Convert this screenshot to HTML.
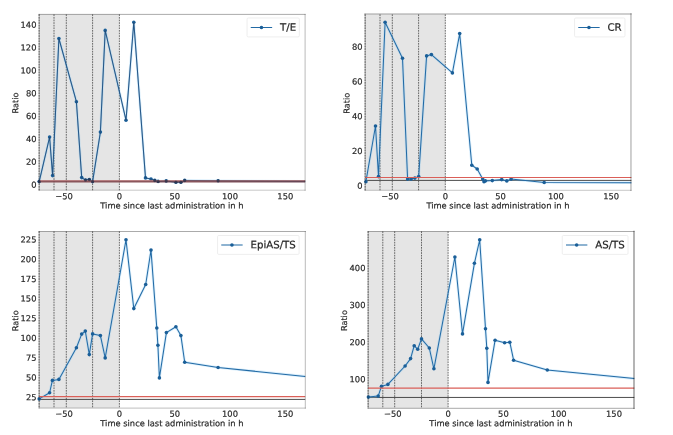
<!DOCTYPE html>
<html lang="en"><head><meta charset="utf-8"><title>Ratio plots</title>
<style>html,body{margin:0;padding:0;background:#fff;width:673px;height:435px;overflow:hidden}svg{display:block}text{font-family:"DejaVu Sans","Liberation Sans",sans-serif;fill:#262626;stroke:#262626;stroke-width:0.18px;text-rendering:geometricPrecision}text.lg{stroke-width:0.22px}</style></head><body>
<svg width="673" height="435" viewBox="0 0 673 435">
<rect width="673" height="435" fill="#fff"/>
<g>
<rect x="39.1" y="14.4" width="80.3" height="175.9" fill="#e5e5e5"/>
<line x1="39.1" y1="14.4" x2="39.1" y2="190.3" stroke="#000" stroke-opacity="0.85" stroke-width="0.65" stroke-dasharray="1.7 0.9"/>
<line x1="54" y1="14.4" x2="54" y2="190.3" stroke="#000" stroke-opacity="0.85" stroke-width="0.65" stroke-dasharray="1.7 0.9"/>
<line x1="66.3" y1="14.4" x2="66.3" y2="190.3" stroke="#000" stroke-opacity="0.85" stroke-width="0.65" stroke-dasharray="1.7 0.9"/>
<line x1="92.6" y1="14.4" x2="92.6" y2="190.3" stroke="#000" stroke-opacity="0.85" stroke-width="0.65" stroke-dasharray="1.7 0.9"/>
<line x1="119.4" y1="14.4" x2="119.4" y2="190.3" stroke="#000" stroke-opacity="0.85" stroke-width="0.65" stroke-dasharray="1.7 0.9"/>
<polyline points="39.2,181.6 49.6,137.1 52.6,175.6 58.9,38.5 76.4,101.7 81.7,177.6 85.5,180.1 89.3,179.6 92.6,181.6 100.4,132.1 105.2,30.4 126,120.2 133.8,22.3 145.5,177.9 151,179.1 154.8,180.4 158.1,181.4 166.2,180.9 175.9,182.2 180.9,182.2 184.7,180.4 218.1,180.8 305.2,181.3" fill="none" stroke="#7cc4f5" stroke-opacity="0.28" stroke-width="2.7" stroke-linejoin="round"/>
<polyline points="39.2,181.6 49.6,137.1 52.6,175.6 58.9,38.5 76.4,101.7 81.7,177.6 85.5,180.1 89.3,179.6 92.6,181.6 100.4,132.1 105.2,30.4 126,120.2 133.8,22.3 145.5,177.9 151,179.1 154.8,180.4 158.1,181.4 166.2,180.9 175.9,182.2 180.9,182.2 184.7,180.4 218.1,180.8 305.2,181.3" fill="none" stroke="#226aa5" stroke-width="1.02" stroke-linejoin="round"/>
<circle cx="39.2" cy="181.6" r="1.8" fill="#1b5f98"/>
<circle cx="49.6" cy="137.1" r="1.8" fill="#1b5f98"/>
<circle cx="52.6" cy="175.6" r="1.8" fill="#1b5f98"/>
<circle cx="58.9" cy="38.5" r="1.8" fill="#1b5f98"/>
<circle cx="76.4" cy="101.7" r="1.8" fill="#1b5f98"/>
<circle cx="81.7" cy="177.6" r="1.8" fill="#1b5f98"/>
<circle cx="85.5" cy="180.1" r="1.8" fill="#1b5f98"/>
<circle cx="89.3" cy="179.6" r="1.8" fill="#1b5f98"/>
<circle cx="92.6" cy="181.6" r="1.8" fill="#1b5f98"/>
<circle cx="100.4" cy="132.1" r="1.8" fill="#1b5f98"/>
<circle cx="105.2" cy="30.4" r="1.8" fill="#1b5f98"/>
<circle cx="126" cy="120.2" r="1.8" fill="#1b5f98"/>
<circle cx="133.8" cy="22.3" r="1.8" fill="#1b5f98"/>
<circle cx="145.5" cy="177.9" r="1.8" fill="#1b5f98"/>
<circle cx="151" cy="179.1" r="1.8" fill="#1b5f98"/>
<circle cx="154.8" cy="180.4" r="1.8" fill="#1b5f98"/>
<circle cx="158.1" cy="181.4" r="1.8" fill="#1b5f98"/>
<circle cx="166.2" cy="180.9" r="1.8" fill="#1b5f98"/>
<circle cx="175.9" cy="182.2" r="1.8" fill="#1b5f98"/>
<circle cx="180.9" cy="182.2" r="1.8" fill="#1b5f98"/>
<circle cx="184.7" cy="180.4" r="1.8" fill="#1b5f98"/>
<circle cx="218.1" cy="180.8" r="1.8" fill="#1b5f98"/>
<line x1="39.1" y1="180.5" x2="305.2" y2="180.5" stroke="#e39a97" stroke-width="0.9" stroke-opacity="0.8"/>
<line x1="39.1" y1="181.5" x2="305.2" y2="181.5" stroke="#82494f" stroke-width="1.85" stroke-opacity="0.92"/>
<polyline points="39.2,181.6 49.6,137.1 52.6,175.6 58.9,38.5 76.4,101.7 81.7,177.6 85.5,180.1 89.3,179.6 92.6,181.6 100.4,132.1 105.2,30.4 126,120.2 133.8,22.3 145.5,177.9 151,179.1 154.8,180.4 158.1,181.4 166.2,180.9 175.9,182.2 180.9,182.2 184.7,180.4 218.1,180.8 305.2,181.3" fill="none" stroke="#2a3550" stroke-width="1" stroke-opacity="0.35"/>
<circle cx="39.2" cy="181.6" r="1.5" fill="#2a3048" fill-opacity="0.75"/>
<circle cx="85.5" cy="180.1" r="1.5" fill="#2a3048" fill-opacity="0.75"/>
<circle cx="89.3" cy="179.6" r="1.5" fill="#2a3048" fill-opacity="0.75"/>
<circle cx="92.6" cy="181.6" r="1.5" fill="#2a3048" fill-opacity="0.75"/>
<circle cx="154.8" cy="180.4" r="1.5" fill="#2a3048" fill-opacity="0.75"/>
<circle cx="158.1" cy="181.4" r="1.5" fill="#2a3048" fill-opacity="0.75"/>
<circle cx="166.2" cy="180.9" r="1.5" fill="#2a3048" fill-opacity="0.75"/>
<circle cx="175.9" cy="182.2" r="1.5" fill="#2a3048" fill-opacity="0.75"/>
<circle cx="180.9" cy="182.2" r="1.5" fill="#2a3048" fill-opacity="0.75"/>
<circle cx="184.7" cy="180.4" r="1.5" fill="#2a3048" fill-opacity="0.75"/>
<circle cx="218.1" cy="180.8" r="1.5" fill="#2a3048" fill-opacity="0.75"/>
<line x1="39.1" y1="14.4" x2="305.1" y2="14.4" stroke="#000" stroke-opacity="0.33" stroke-width="1.0" stroke-linecap="square"/>
<line x1="305.1" y1="14.4" x2="305.1" y2="190.2" stroke="#000" stroke-opacity="0.27" stroke-width="1.0" stroke-linecap="square"/>
<line x1="39.1" y1="190.2" x2="305.1" y2="190.2" stroke="#000" stroke-opacity="0.22" stroke-width="1.0" stroke-linecap="square"/>
<line x1="39.1" y1="14.4" x2="39.1" y2="190.2" stroke="#000" stroke-opacity="0.3" stroke-width="0.9" stroke-linecap="square"/>
<text transform="matrix(1 0.0005 0 1 64.1 199.15)" font-size="8.35" text-anchor="middle">−50</text>
<text transform="matrix(1 0.0005 0 1 119.4 199.15)" font-size="8.35" text-anchor="middle">0</text>
<text transform="matrix(1 0.0005 0 1 174.7 199.15)" font-size="8.35" text-anchor="middle">50</text>
<text transform="matrix(1 0.0005 0 1 230 199.15)" font-size="8.35" text-anchor="middle">100</text>
<text transform="matrix(1 0.0005 0 1 285.3 199.15)" font-size="8.35" text-anchor="middle">150</text>
<text transform="matrix(1 0.0005 0 1 36.5 187.64)" font-size="8.35" text-anchor="end">0</text>
<text transform="matrix(1 0.0005 0 1 36.5 164.8)" font-size="8.35" text-anchor="end">20</text>
<text transform="matrix(1 0.0005 0 1 36.5 141.96)" font-size="8.35" text-anchor="end">40</text>
<text transform="matrix(1 0.0005 0 1 36.5 119.12)" font-size="8.35" text-anchor="end">60</text>
<text transform="matrix(1 0.0005 0 1 36.5 96.28)" font-size="8.35" text-anchor="end">80</text>
<text transform="matrix(1 0.0005 0 1 36.5 73.44)" font-size="8.35" text-anchor="end">100</text>
<text transform="matrix(1 0.0005 0 1 36.5 50.6)" font-size="8.35" text-anchor="end">120</text>
<text transform="matrix(1 0.0005 0 1 36.5 27.76)" font-size="8.35" text-anchor="end">140</text>
<text transform="matrix(1 0.0005 0 1 171.85 208.55)" font-size="8.3" text-anchor="middle">Time since last administration in h</text>
<text transform="matrix(0.0005 -1 1 0 18.2 102.95)" font-size="8.2" text-anchor="middle">Ratio</text>
<rect x="247.05" y="18" width="52.31" height="18.9" rx="1.2" fill="#fff" fill-opacity="0.8" stroke="#e6e6e6" stroke-width="0.7"/>
<line x1="250.75" y1="27.5" x2="272.15" y2="27.5" stroke="#226aa5" stroke-width="1.02"/>
<circle cx="261.45" cy="27.5" r="1.8" fill="#1b5f98"/>
<text transform="matrix(1 0.0005 0 1 280 30.8)" font-size="10.2" class="lg">T/E</text>
</g>
<g>
<rect x="365.1" y="14.4" width="80.2" height="175.9" fill="#e5e5e5"/>
<line x1="365.1" y1="14.4" x2="365.1" y2="190.3" stroke="#000" stroke-opacity="0.85" stroke-width="0.65" stroke-dasharray="1.7 0.9"/>
<line x1="380" y1="14.4" x2="380" y2="190.3" stroke="#000" stroke-opacity="0.85" stroke-width="0.65" stroke-dasharray="1.7 0.9"/>
<line x1="392.3" y1="14.4" x2="392.3" y2="190.3" stroke="#000" stroke-opacity="0.85" stroke-width="0.65" stroke-dasharray="1.7 0.9"/>
<line x1="418.6" y1="14.4" x2="418.6" y2="190.3" stroke="#000" stroke-opacity="0.85" stroke-width="0.65" stroke-dasharray="1.7 0.9"/>
<line x1="445.3" y1="14.4" x2="445.3" y2="190.3" stroke="#000" stroke-opacity="0.85" stroke-width="0.65" stroke-dasharray="1.7 0.9"/>
<line x1="365.1" y1="180.4" x2="631.4" y2="180.4" stroke="#2e2e2e" stroke-width="0.85"/>
<polyline points="365.9,181.7 375.5,126 378.5,176.6 385.1,22.3 402.5,58.2 407.6,179.1 411.1,179.1 414.9,178.1 418.7,176.6 426.6,55.9 431.4,54.6 452.4,72.9 459.7,33.6 471.8,165.2 477.2,169 482.7,179.1 484,181.7 485.3,180.9 492.3,180.6 501.7,179.6 506.8,180.9 511.1,179.1 544.2,182.5 631.4,182.7" fill="none" stroke="#7cc4f5" stroke-opacity="0.28" stroke-width="2.7" stroke-linejoin="round"/>
<polyline points="365.9,181.7 375.5,126 378.5,176.6 385.1,22.3 402.5,58.2 407.6,179.1 411.1,179.1 414.9,178.1 418.7,176.6 426.6,55.9 431.4,54.6 452.4,72.9 459.7,33.6 471.8,165.2 477.2,169 482.7,179.1 484,181.7 485.3,180.9 492.3,180.6 501.7,179.6 506.8,180.9 511.1,179.1 544.2,182.5 631.4,182.7" fill="none" stroke="#226aa5" stroke-width="1.02" stroke-linejoin="round"/>
<circle cx="365.9" cy="181.7" r="1.8" fill="#1b5f98"/>
<circle cx="375.5" cy="126" r="1.8" fill="#1b5f98"/>
<circle cx="378.5" cy="176.6" r="1.8" fill="#1b5f98"/>
<circle cx="385.1" cy="22.3" r="1.8" fill="#1b5f98"/>
<circle cx="402.5" cy="58.2" r="1.8" fill="#1b5f98"/>
<circle cx="407.6" cy="179.1" r="1.8" fill="#1b5f98"/>
<circle cx="411.1" cy="179.1" r="1.8" fill="#1b5f98"/>
<circle cx="414.9" cy="178.1" r="1.8" fill="#1b5f98"/>
<circle cx="418.7" cy="176.6" r="1.8" fill="#1b5f98"/>
<circle cx="426.6" cy="55.9" r="1.8" fill="#1b5f98"/>
<circle cx="431.4" cy="54.6" r="1.8" fill="#1b5f98"/>
<circle cx="452.4" cy="72.9" r="1.8" fill="#1b5f98"/>
<circle cx="459.7" cy="33.6" r="1.8" fill="#1b5f98"/>
<circle cx="471.8" cy="165.2" r="1.8" fill="#1b5f98"/>
<circle cx="477.2" cy="169" r="1.8" fill="#1b5f98"/>
<circle cx="482.7" cy="179.1" r="1.8" fill="#1b5f98"/>
<circle cx="484" cy="181.7" r="1.8" fill="#1b5f98"/>
<circle cx="485.3" cy="180.9" r="1.8" fill="#1b5f98"/>
<circle cx="492.3" cy="180.6" r="1.8" fill="#1b5f98"/>
<circle cx="501.7" cy="179.6" r="1.8" fill="#1b5f98"/>
<circle cx="506.8" cy="180.9" r="1.8" fill="#1b5f98"/>
<circle cx="511.1" cy="179.1" r="1.8" fill="#1b5f98"/>
<circle cx="544.2" cy="182.5" r="1.8" fill="#1b5f98"/>
<line x1="365.1" y1="177.45" x2="631.4" y2="177.45" stroke="#da5f58" stroke-width="1.05"/>
<line x1="365.1" y1="14.05" x2="630.95" y2="14.05" stroke="#000" stroke-opacity="0.25" stroke-width="1.5" stroke-linecap="square"/>
<line x1="630.95" y1="14.05" x2="630.95" y2="190.3" stroke="#000" stroke-opacity="0.24" stroke-width="1.6" stroke-linecap="square"/>
<line x1="365.1" y1="190.3" x2="630.95" y2="190.3" stroke="#000" stroke-opacity="0.22" stroke-width="1.0" stroke-linecap="square"/>
<line x1="365.1" y1="14.05" x2="365.1" y2="190.3" stroke="#000" stroke-opacity="0.3" stroke-width="0.9" stroke-linecap="square"/>
<text transform="matrix(1 0.0005 0 1 390 199.15)" font-size="8.35" text-anchor="middle">−50</text>
<text transform="matrix(1 0.0005 0 1 445.3 199.15)" font-size="8.35" text-anchor="middle">0</text>
<text transform="matrix(1 0.0005 0 1 500.6 199.15)" font-size="8.35" text-anchor="middle">50</text>
<text transform="matrix(1 0.0005 0 1 555.9 199.15)" font-size="8.35" text-anchor="middle">100</text>
<text transform="matrix(1 0.0005 0 1 611.2 199.15)" font-size="8.35" text-anchor="middle">150</text>
<text transform="matrix(1 0.0005 0 1 362.5 188.64)" font-size="8.35" text-anchor="end">0</text>
<text transform="matrix(1 0.0005 0 1 362.5 153.94)" font-size="8.35" text-anchor="end">20</text>
<text transform="matrix(1 0.0005 0 1 362.5 119.24)" font-size="8.35" text-anchor="end">40</text>
<text transform="matrix(1 0.0005 0 1 362.5 84.54)" font-size="8.35" text-anchor="end">60</text>
<text transform="matrix(1 0.0005 0 1 362.5 49.84)" font-size="8.35" text-anchor="end">80</text>
<text transform="matrix(1 0.0005 0 1 497.95 208.55)" font-size="8.3" text-anchor="middle">Time since last administration in h</text>
<text transform="matrix(0.0005 -1 1 0 349.6 103.15)" font-size="8.2" text-anchor="middle">Ratio</text>
<rect x="574.55" y="18" width="50.41" height="18.9" rx="1.2" fill="#fff" fill-opacity="0.8" stroke="#e6e6e6" stroke-width="0.7"/>
<line x1="578.25" y1="27.5" x2="599.65" y2="27.5" stroke="#226aa5" stroke-width="1.02"/>
<circle cx="588.95" cy="27.5" r="1.8" fill="#1b5f98"/>
<text transform="matrix(1 0.0005 0 1 607.5 30.8)" font-size="10.2" class="lg">CR</text>
</g>
<g>
<rect x="39.1" y="231.4" width="80.3" height="176.6" fill="#e5e5e5"/>
<line x1="39.1" y1="231.4" x2="39.1" y2="408" stroke="#000" stroke-opacity="0.85" stroke-width="0.65" stroke-dasharray="1.7 0.9"/>
<line x1="54" y1="231.4" x2="54" y2="408" stroke="#000" stroke-opacity="0.85" stroke-width="0.65" stroke-dasharray="1.7 0.9"/>
<line x1="66.3" y1="231.4" x2="66.3" y2="408" stroke="#000" stroke-opacity="0.85" stroke-width="0.65" stroke-dasharray="1.7 0.9"/>
<line x1="92.6" y1="231.4" x2="92.6" y2="408" stroke="#000" stroke-opacity="0.85" stroke-width="0.65" stroke-dasharray="1.7 0.9"/>
<line x1="119.4" y1="231.4" x2="119.4" y2="408" stroke="#000" stroke-opacity="0.85" stroke-width="0.65" stroke-dasharray="1.7 0.9"/>
<line x1="39.1" y1="399.4" x2="305.2" y2="399.4" stroke="#2e2e2e" stroke-width="0.85"/>
<polyline points="39.2,398.9 49.6,392.8 52.4,380.4 58.9,379.4 76.4,347.8 81.7,334.1 85.3,331.1 89.3,354.6 92.6,333.9 100.4,335.6 105.2,357.9 126,239.8 133.8,308.6 145.7,284.5 151,250.1 156.8,328 157.9,345.2 159.4,377.9 166.4,332.6 175.9,326.8 180.9,335.6 184.7,362.2 218.1,367.5 305.2,376.4" fill="none" stroke="#7cc4f5" stroke-opacity="0.28" stroke-width="2.7" stroke-linejoin="round"/>
<polyline points="39.2,398.9 49.6,392.8 52.4,380.4 58.9,379.4 76.4,347.8 81.7,334.1 85.3,331.1 89.3,354.6 92.6,333.9 100.4,335.6 105.2,357.9 126,239.8 133.8,308.6 145.7,284.5 151,250.1 156.8,328 157.9,345.2 159.4,377.9 166.4,332.6 175.9,326.8 180.9,335.6 184.7,362.2 218.1,367.5 305.2,376.4" fill="none" stroke="#226aa5" stroke-width="1.02" stroke-linejoin="round"/>
<circle cx="39.2" cy="398.9" r="1.8" fill="#1b5f98"/>
<circle cx="49.6" cy="392.8" r="1.8" fill="#1b5f98"/>
<circle cx="52.4" cy="380.4" r="1.8" fill="#1b5f98"/>
<circle cx="58.9" cy="379.4" r="1.8" fill="#1b5f98"/>
<circle cx="76.4" cy="347.8" r="1.8" fill="#1b5f98"/>
<circle cx="81.7" cy="334.1" r="1.8" fill="#1b5f98"/>
<circle cx="85.3" cy="331.1" r="1.8" fill="#1b5f98"/>
<circle cx="89.3" cy="354.6" r="1.8" fill="#1b5f98"/>
<circle cx="92.6" cy="333.9" r="1.8" fill="#1b5f98"/>
<circle cx="100.4" cy="335.6" r="1.8" fill="#1b5f98"/>
<circle cx="105.2" cy="357.9" r="1.8" fill="#1b5f98"/>
<circle cx="126" cy="239.8" r="1.8" fill="#1b5f98"/>
<circle cx="133.8" cy="308.6" r="1.8" fill="#1b5f98"/>
<circle cx="145.7" cy="284.5" r="1.8" fill="#1b5f98"/>
<circle cx="151" cy="250.1" r="1.8" fill="#1b5f98"/>
<circle cx="156.8" cy="328" r="1.8" fill="#1b5f98"/>
<circle cx="157.9" cy="345.2" r="1.8" fill="#1b5f98"/>
<circle cx="159.4" cy="377.9" r="1.8" fill="#1b5f98"/>
<circle cx="166.4" cy="332.6" r="1.8" fill="#1b5f98"/>
<circle cx="175.9" cy="326.8" r="1.8" fill="#1b5f98"/>
<circle cx="180.9" cy="335.6" r="1.8" fill="#1b5f98"/>
<circle cx="184.7" cy="362.2" r="1.8" fill="#1b5f98"/>
<circle cx="218.1" cy="367.5" r="1.8" fill="#1b5f98"/>
<line x1="39.1" y1="396.6" x2="305.2" y2="396.6" stroke="#da5f58" stroke-width="1.05"/>
<line x1="39.1" y1="231.5" x2="305.3" y2="231.5" stroke="#000" stroke-opacity="0.33" stroke-width="1.0" stroke-linecap="square"/>
<line x1="305.3" y1="231.5" x2="305.3" y2="408.1" stroke="#000" stroke-opacity="0.27" stroke-width="1.0" stroke-linecap="square"/>
<line x1="39.1" y1="408.1" x2="305.3" y2="408.1" stroke="#000" stroke-opacity="0.26" stroke-width="1.0" stroke-linecap="square"/>
<line x1="39.1" y1="231.5" x2="39.1" y2="408.1" stroke="#000" stroke-opacity="0.3" stroke-width="0.9" stroke-linecap="square"/>
<text transform="matrix(1 0.0005 0 1 64.1 416.85)" font-size="8.35" text-anchor="middle">−50</text>
<text transform="matrix(1 0.0005 0 1 119.4 416.85)" font-size="8.35" text-anchor="middle">0</text>
<text transform="matrix(1 0.0005 0 1 174.7 416.85)" font-size="8.35" text-anchor="middle">50</text>
<text transform="matrix(1 0.0005 0 1 230 416.85)" font-size="8.35" text-anchor="middle">100</text>
<text transform="matrix(1 0.0005 0 1 285.3 416.85)" font-size="8.35" text-anchor="middle">150</text>
<text transform="matrix(1 0.0005 0 1 36.5 400.24)" font-size="8.35" text-anchor="end">25</text>
<text transform="matrix(1 0.0005 0 1 36.5 380.51)" font-size="8.35" text-anchor="end">50</text>
<text transform="matrix(1 0.0005 0 1 36.5 360.79)" font-size="8.35" text-anchor="end">75</text>
<text transform="matrix(1 0.0005 0 1 36.5 341.06)" font-size="8.35" text-anchor="end">100</text>
<text transform="matrix(1 0.0005 0 1 36.5 321.34)" font-size="8.35" text-anchor="end">125</text>
<text transform="matrix(1 0.0005 0 1 36.5 301.62)" font-size="8.35" text-anchor="end">150</text>
<text transform="matrix(1 0.0005 0 1 36.5 281.89)" font-size="8.35" text-anchor="end">175</text>
<text transform="matrix(1 0.0005 0 1 36.5 262.17)" font-size="8.35" text-anchor="end">200</text>
<text transform="matrix(1 0.0005 0 1 36.5 242.44)" font-size="8.35" text-anchor="end">225</text>
<text transform="matrix(1 0.0005 0 1 171.85 426.25)" font-size="8.3" text-anchor="middle">Time since last administration in h</text>
<text transform="matrix(0.0005 -1 1 0 18.2 320.7)" font-size="8.2" text-anchor="middle">Ratio</text>
<rect x="217.55" y="235.5" width="81.55" height="18.9" rx="1.2" fill="#fff" fill-opacity="0.8" stroke="#e6e6e6" stroke-width="0.7"/>
<line x1="221.25" y1="245" x2="242.65" y2="245" stroke="#226aa5" stroke-width="1.02"/>
<circle cx="231.95" cy="245" r="1.8" fill="#1b5f98"/>
<text transform="matrix(1 0.0005 0 1 250.5 248.3)" font-size="10.2" class="lg">EpiAS/TS</text>
</g>
<g>
<rect x="368.1" y="231.4" width="80" height="176.6" fill="#e5e5e5"/>
<line x1="368.1" y1="231.4" x2="368.1" y2="408" stroke="#000" stroke-opacity="0.85" stroke-width="0.65" stroke-dasharray="1.7 0.9"/>
<line x1="382.8" y1="231.4" x2="382.8" y2="408" stroke="#000" stroke-opacity="0.85" stroke-width="0.65" stroke-dasharray="1.7 0.9"/>
<line x1="394.7" y1="231.4" x2="394.7" y2="408" stroke="#000" stroke-opacity="0.85" stroke-width="0.65" stroke-dasharray="1.7 0.9"/>
<line x1="421.5" y1="231.4" x2="421.5" y2="408" stroke="#000" stroke-opacity="0.85" stroke-width="0.65" stroke-dasharray="1.7 0.9"/>
<line x1="448.1" y1="231.4" x2="448.1" y2="408" stroke="#000" stroke-opacity="0.85" stroke-width="0.65" stroke-dasharray="1.7 0.9"/>
<line x1="368.1" y1="397.45" x2="634.3" y2="397.45" stroke="#2e2e2e" stroke-width="0.85"/>
<polyline points="368.4,397.1 378.2,396.1 381.5,386.2 387.9,384.4 405.1,366 410.6,358.6 414.2,345.7 417.7,349.3 421.5,338.9 429.3,348 433.9,368.8 454.9,257 462.5,333.9 474.4,263.3 479.7,239.8 485.5,328.8 486.8,348.3 488,382.4 495.1,340.2 504.6,342.7 509.8,342.2 513.6,360.2 547.3,370 634.3,378.6" fill="none" stroke="#7cc4f5" stroke-opacity="0.28" stroke-width="2.7" stroke-linejoin="round"/>
<polyline points="368.4,397.1 378.2,396.1 381.5,386.2 387.9,384.4 405.1,366 410.6,358.6 414.2,345.7 417.7,349.3 421.5,338.9 429.3,348 433.9,368.8 454.9,257 462.5,333.9 474.4,263.3 479.7,239.8 485.5,328.8 486.8,348.3 488,382.4 495.1,340.2 504.6,342.7 509.8,342.2 513.6,360.2 547.3,370 634.3,378.6" fill="none" stroke="#226aa5" stroke-width="1.02" stroke-linejoin="round"/>
<circle cx="368.4" cy="397.1" r="1.8" fill="#1b5f98"/>
<circle cx="378.2" cy="396.1" r="1.8" fill="#1b5f98"/>
<circle cx="381.5" cy="386.2" r="1.8" fill="#1b5f98"/>
<circle cx="387.9" cy="384.4" r="1.8" fill="#1b5f98"/>
<circle cx="405.1" cy="366" r="1.8" fill="#1b5f98"/>
<circle cx="410.6" cy="358.6" r="1.8" fill="#1b5f98"/>
<circle cx="414.2" cy="345.7" r="1.8" fill="#1b5f98"/>
<circle cx="417.7" cy="349.3" r="1.8" fill="#1b5f98"/>
<circle cx="421.5" cy="338.9" r="1.8" fill="#1b5f98"/>
<circle cx="429.3" cy="348" r="1.8" fill="#1b5f98"/>
<circle cx="433.9" cy="368.8" r="1.8" fill="#1b5f98"/>
<circle cx="454.9" cy="257" r="1.8" fill="#1b5f98"/>
<circle cx="462.5" cy="333.9" r="1.8" fill="#1b5f98"/>
<circle cx="474.4" cy="263.3" r="1.8" fill="#1b5f98"/>
<circle cx="479.7" cy="239.8" r="1.8" fill="#1b5f98"/>
<circle cx="485.5" cy="328.8" r="1.8" fill="#1b5f98"/>
<circle cx="486.8" cy="348.3" r="1.8" fill="#1b5f98"/>
<circle cx="488" cy="382.4" r="1.8" fill="#1b5f98"/>
<circle cx="495.1" cy="340.2" r="1.8" fill="#1b5f98"/>
<circle cx="504.6" cy="342.7" r="1.8" fill="#1b5f98"/>
<circle cx="509.8" cy="342.2" r="1.8" fill="#1b5f98"/>
<circle cx="513.6" cy="360.2" r="1.8" fill="#1b5f98"/>
<circle cx="547.3" cy="370" r="1.8" fill="#1b5f98"/>
<line x1="368.1" y1="388.1" x2="634.3" y2="388.1" stroke="#da5f58" stroke-width="1.05"/>
<line x1="368.1" y1="231.5" x2="634" y2="231.5" stroke="#000" stroke-opacity="0.33" stroke-width="1.0" stroke-linecap="square"/>
<line x1="634" y1="231.5" x2="634" y2="408.3" stroke="#000" stroke-opacity="0.42" stroke-width="1.4" stroke-linecap="square"/>
<line x1="368.1" y1="408.3" x2="634" y2="408.3" stroke="#000" stroke-opacity="0.34" stroke-width="1.0" stroke-linecap="square"/>
<line x1="368.1" y1="231.5" x2="368.1" y2="408.3" stroke="#000" stroke-opacity="0.3" stroke-width="0.9" stroke-linecap="square"/>
<text transform="matrix(1 0.0005 0 1 392.8 416.85)" font-size="8.35" text-anchor="middle">−50</text>
<text transform="matrix(1 0.0005 0 1 448.1 416.85)" font-size="8.35" text-anchor="middle">0</text>
<text transform="matrix(1 0.0005 0 1 503.4 416.85)" font-size="8.35" text-anchor="middle">50</text>
<text transform="matrix(1 0.0005 0 1 558.7 416.85)" font-size="8.35" text-anchor="middle">100</text>
<text transform="matrix(1 0.0005 0 1 614 416.85)" font-size="8.35" text-anchor="middle">150</text>
<text transform="matrix(1 0.0005 0 1 365.5 382.29)" font-size="8.35" text-anchor="end">100</text>
<text transform="matrix(1 0.0005 0 1 365.5 345.19)" font-size="8.35" text-anchor="end">200</text>
<text transform="matrix(1 0.0005 0 1 365.5 308.09)" font-size="8.35" text-anchor="end">300</text>
<text transform="matrix(1 0.0005 0 1 365.5 270.99)" font-size="8.35" text-anchor="end">400</text>
<text transform="matrix(1 0.0005 0 1 500.9 426.25)" font-size="8.3" text-anchor="middle">Time since last administration in h</text>
<text transform="matrix(0.0005 -1 1 0 347 320.6)" font-size="8.2" text-anchor="middle">Ratio</text>
<rect x="562.25" y="235.5" width="65.79" height="18.9" rx="1.2" fill="#fff" fill-opacity="0.8" stroke="#e6e6e6" stroke-width="0.7"/>
<line x1="565.95" y1="245" x2="587.35" y2="245" stroke="#226aa5" stroke-width="1.02"/>
<circle cx="576.65" cy="245" r="1.8" fill="#1b5f98"/>
<text transform="matrix(1 0.0005 0 1 595.2 248.3)" font-size="10.2" class="lg">AS/TS</text>
</g>
</svg></body></html>
